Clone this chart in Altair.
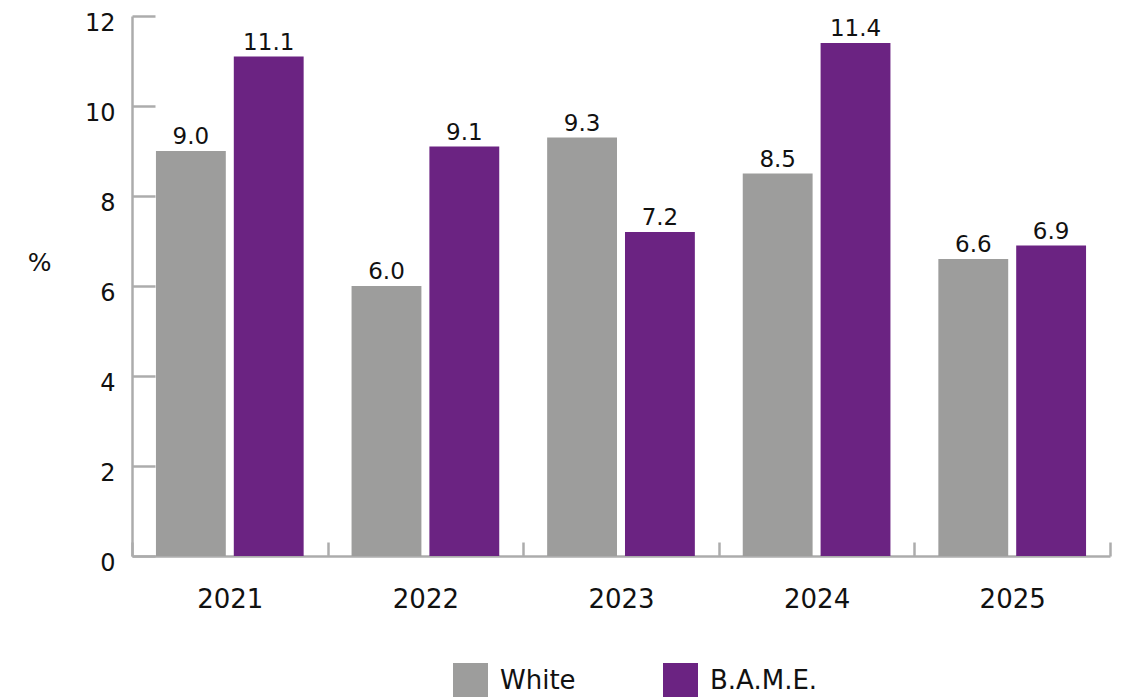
import altair as alt
import pandas as pd

years = ["2021", "2022", "2023", "2024", "2025"]
white = [9.0, 6.0, 9.3, 8.5, 6.6]
bame = [11.1, 9.1, 7.2, 11.4, 6.9]
groups = ["White", "B.A.M.E."]
colors = ["#9d9d9c", "#6b2382"]
y_ticks = [0, 2, 4, 6, 8, 10, 12]

rows = []
for i, yr in enumerate(years):
    rows.append({"Year": yr, "Group": "White", "Value": white[i]})
    rows.append({"Year": yr, "Group": "B.A.M.E.", "Value": bame[i]})
df = pd.DataFrame(rows)
df["Label"] = df["Value"].map(lambda v: f"{v:.1f}")

FONT = "DejaVu Sans"
AX = "#acacac"
TXT = "#111111"

x = alt.X(
    "Year:N",
    sort=years,
    scale=alt.Scale(paddingInner=0, paddingOuter=0),
    axis=alt.Axis(
        title=None, labelAngle=0, tickBand="extent",
        tickSize={"expr": "-14"}, tickWidth=2.5, tickColor=AX,
        domainColor=AX, domainWidth=2.5,
        labelFont=FONT, labelFontSize=26, labelColor=TXT,
        labelPadding=44,
    ),
)
xoff = alt.XOffset(
    "Group:N", sort=groups,
    scale=alt.Scale(paddingInner=0.1026, paddingOuter=0.3077),
)
y = alt.Y(
    "Value:Q",
    scale=alt.Scale(domain=[0, 12], nice=False),
    axis=alt.Axis(
        values=y_ticks, grid=False, title="%", titleAngle=0,
        titleX=-93, titleY=246, titleAlign="center", titleBaseline="middle",
        titleFont=FONT, titleFontSize=25, titleFontWeight="normal", titleColor=TXT,
        tickSize={"expr": "-23"}, tickWidth=2.5, tickColor=AX,
        domainColor=AX, domainWidth=2.5,
        labelFont=FONT, labelFontSize=24, labelColor=TXT,
        labelPadding=40, labelOffset=7,
    ),
)
color = alt.Color(
    "Group:N",
    sort=groups,
    scale=alt.Scale(domain=groups, range=colors),
    legend=alt.Legend(
        title=None, orient="none", legendX=321, legendY=647,
        direction="horizontal", symbolType="square", symbolSize=1225,
        symbolStrokeWidth=0, labelFont=FONT, labelFontSize=26,
        labelColor=TXT, labelOffset=12, columnPadding=87, padding=0,
    ),
)

base = alt.Chart(df)
bars = base.mark_bar().encode(x=x, xOffset=xoff, y=y, color=color)
labels = base.mark_text(baseline="alphabetic", dy=-7, font=FONT, fontSize=23, color=TXT).encode(
    x=x, xOffset=xoff, y=y, text="Label:N"
)

chart = (
    alt.layer(bars, labels)
    .properties(
        width=978, height=540,
        autosize=alt.AutoSizeParams(type="none"),
        padding={"left": 132, "top": 16, "right": 13, "bottom": 141},
        background="white",
    )
    .configure_view(stroke=None)
)

chart.save("out.html", embed_options={"renderer": "svg", "actions": False})
